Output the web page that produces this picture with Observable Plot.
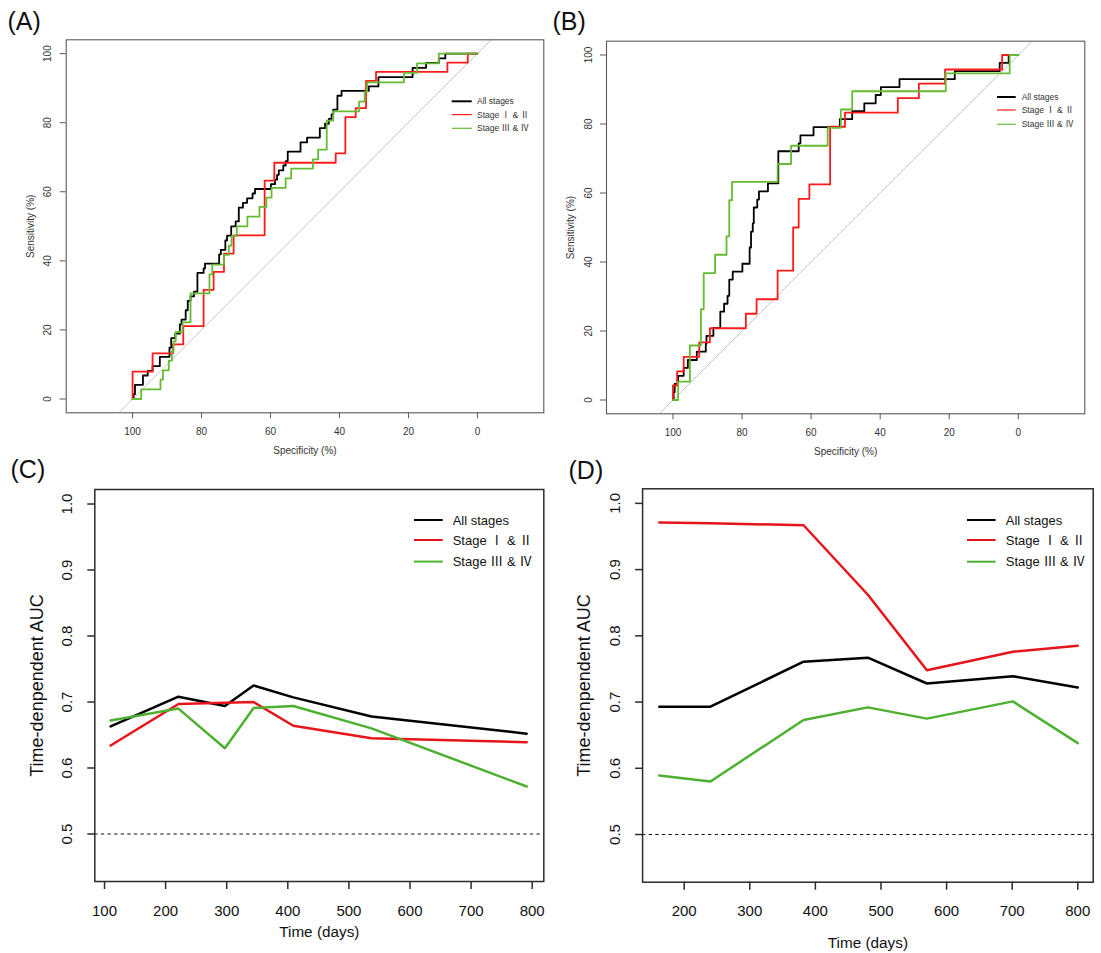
<!DOCTYPE html>
<html>
<head>
<meta charset="utf-8">
<script src="https://cdn.jsdelivr.net/npm/d3@7"></script>
<script src="https://cdn.jsdelivr.net/npm/@observablehq/plot@0.6"></script>
<style>
  body { margin: 0; background: #fff; }
  #wrap { position: relative; width: 1101px; height: 953px; overflow: hidden; background: #fff; }
  #wrap svg { position: absolute; overflow: visible; }
</style>
</head>
<body>
<div id="wrap"></div>
<script>
const FONT = "'Liberation Sans', 'Noto Sans CJK SC', Arial, sans-serif";

// ---------- data ----------
const seriesNames = ["All stages", "Stage Ⅰ & Ⅱ", "Stage Ⅲ & Ⅳ"];
const rocColors = ["#000000", "#ff1a1a", "#66bb33"];
const aucColors = ["#000000", "#e8141c", "#4db030"];

const rocTicks = [0, 20, 40, 60, 80, 100];
const chanceSpec = [-20, 120];           // chance diagonal: sensitivity = 100 - specificity
const chanceAUC = [0.5];

// Panel A ROC (specificity %, sensitivity %), step points
const rocA_allSpec = [100, 99.7, 99.3, 97.0, 95.6, 94.2, 92.1, 89.3, 88.8, 87.6, 86.3, 85.8, 84.6, 84.0, 83.2, 82.2, 81.2, 79.4, 79.0, 74.9, 74.4, 73.1, 72.6, 71.4, 70.1, 69.2, 68.0, 66.8, 65.2, 64.5, 59.9, 58.7, 58.1, 57.6, 56.3, 55.6, 55.0, 51.3, 49.4, 45.7, 44.2, 43.1, 42.3, 41.8, 40.6, 39.4, 31.5, 28.7, 18.8, 14.9, 11.2, 9.3, 0];
const rocA_allSens = [0, 1.4, 4.1, 6.8, 8.1, 9.5, 12.2, 14.9, 17.6, 18.9, 21.6, 23.0, 25.7, 28.4, 29.7, 31.1, 36.5, 37.8, 39.2, 41.9, 43.2, 45.9, 47.3, 50.0, 51.4, 55.4, 56.8, 58.1, 59.5, 60.8, 62.2, 63.5, 64.9, 66.2, 67.6, 68.9, 71.6, 74.3, 75.7, 78.4, 79.7, 81.1, 82.4, 83.8, 87.8, 89.2, 90.5, 93.2, 95.9, 97.3, 98.6, 100, 100];
const rocA_earlySpec = [100, 100, 94.2, 88.3, 85.3, 79.4, 76.5, 73.5, 70.7, 61.7, 58.9, 41.1, 38.3, 35.3, 32.3, 29.4, 8.7, 2.8, 0];
const rocA_earlySens = [0, 7.9, 13.2, 15.8, 21.1, 31.6, 36.8, 42.1, 47.4, 63.2, 68.4, 71.1, 81.6, 84.2, 92.1, 94.7, 97.4, 100, 100];
const rocA_lateSpec = [100, 97.5, 91.9, 91.2, 89.5, 88.6, 88.1, 87.5, 85.5, 83.2, 77.7, 76.9, 73.5, 72.1, 71.3, 69.8, 66.7, 63.2, 61.2, 59.7, 55.6, 54.0, 47.7, 46.2, 43.7, 41.8, 34.3, 32.7, 32.0, 21.3, 17.5, 11.2, 0];
const rocA_lateSens = [0, 2.8, 5.6, 8.3, 11.1, 13.9, 16.7, 19.4, 22.2, 30.6, 36.1, 38.9, 41.7, 44.4, 47.2, 50.0, 52.8, 55.6, 58.3, 61.1, 63.9, 66.7, 69.4, 72.2, 80.6, 83.3, 86.1, 88.9, 91.7, 94.4, 97.2, 100, 100];

// Panel B ROC
const rocB_allSpec = [100, 99.8, 99.5, 98.5, 96.9, 95.7, 93.1, 90.5, 90.3, 88.3, 86.3, 85.2, 84.2, 83.7, 82.7, 79.9, 77.8, 77.4, 76.9, 76.6, 75.6, 75.1, 72.5, 69.5, 63.6, 63.1, 59.3, 51.7, 48.1, 44.6, 41.3, 39.8, 34.4, 18.4, 5.4, 2.8, 0];
const rocB_allSens = [0, 2.3, 4.7, 7.0, 9.3, 11.6, 14.0, 16.3, 18.6, 20.9, 25.6, 27.9, 30.2, 34.9, 37.2, 39.5, 44.2, 48.8, 51.2, 55.8, 58.1, 60.5, 62.8, 72.1, 74.4, 76.7, 79.1, 81.4, 83.7, 86.0, 88.4, 90.7, 93.0, 95.3, 97.7, 100, 100];
const rocB_earlySpec = [100, 100, 98.8, 96.9, 92.4, 89.3, 78.9, 75.8, 69.7, 65.2, 63.6, 60.5, 54.5, 50.2, 34.9, 28.8, 21.2, 4.7, 0];
const rocB_earlySens = [0, 4.2, 8.3, 12.5, 16.7, 20.8, 25.0, 29.2, 37.5, 50.0, 58.3, 62.5, 79.2, 83.3, 87.5, 91.7, 95.8, 100, 100];
const rocB_lateSpec = [100, 98.5, 95.1, 91.9, 91.1, 87.8, 84.5, 83.7, 82.9, 69.7, 65.8, 55.2, 51.4, 48.1, 21.0, 2.5, 0];
const rocB_lateSens = [0, 5.3, 15.8, 26.3, 36.8, 42.1, 47.4, 57.9, 63.2, 68.4, 73.7, 78.9, 84.2, 89.5, 94.7, 100, 100];

// Panel C time-dependent AUC
const timeC = [110, 221, 297, 344, 409, 537, 791];
const aucC_all = [0.663, 0.708, 0.694, 0.725, 0.707, 0.678, 0.652];
const aucC_early = [0.634, 0.697, 0.699, 0.700, 0.664, 0.645, 0.639];
const aucC_late = [0.672, 0.690, 0.630, 0.691, 0.694, 0.660, 0.572];
const timeTicksC = [100, 200, 300, 400, 500, 600, 700, 800];

// Panel D time-dependent AUC
const timeD = [162, 240, 382, 480, 570, 701, 800];
const aucD_all = [0.693, 0.693, 0.761, 0.767, 0.728, 0.739, 0.722];
const aucD_early = [0.971, 0.970, 0.967, 0.862, 0.748, 0.776, 0.785];
const aucD_late = [0.589, 0.580, 0.673, 0.692, 0.675, 0.701, 0.638];
const timeTicksD = [200, 300, 400, 500, 600, 700, 800];

const aucTicks = [0.5, 0.6, 0.7, 0.8, 0.9, 1.0];

// ---------- helpers ----------
const rocRows = (spec, sens, s) => spec.map((v, i) => ({spec: v, sens: sens[i], series: s}));
const aucRows = (t, a, s) => t.map((v, i) => ({time: v, auc: a[i], series: s}));
const chanceRows = chanceSpec.map(s => ({spec: s, sens: 100 - s}));

function legendMark({x1, x2, xt, rows, fontSize, widths, colors, fill}) {
  return () => {
    const g = d3.create("svg:g").attr("font-family", FONT).attr("text-anchor", "start");
    seriesNames.forEach((name, i) => {
      g.append("line").attr("x1", x1).attr("x2", x2).attr("y1", rows[i]).attr("y2", rows[i])
        .attr("stroke", colors[i]).attr("stroke-width", widths[i]);
      g.append("text").attr("x", xt).attr("y", rows[i]).attr("dy", "0.35em")
        .attr("text-anchor", "start")
        .attr("font-size", fontSize).attr("fill", fill).text(name);
    });
    return g.node();
  };
}

function rocPanel({label, rows, W, H, m, legend, lab}) {
  return Plot.plot({
    width: W, height: H,
    marginLeft: m.l, marginRight: m.r, marginTop: m.t, marginBottom: m.b,
    x: {domain: [-19.25, 119.25], reverse: true},
    y: {domain: [-4, 104]},
    color: {domain: seriesNames, range: rocColors},
    style: {fontFamily: FONT, background: "white", overflow: "visible"},
    marks: [
      Plot.line(chanceRows, {x: "spec", y: "sens", stroke: "#c4c4c4", strokeWidth: 1, clip: true}),
      Plot.line(rows, {x: "spec", y: "sens", stroke: "series", curve: "step-after", strokeWidth: 1.8}),
      Plot.frame({stroke: "#595959", strokeWidth: 1.1}),
      Plot.axisX(rocTicks, {tickSize: 6, tickFormat: () => "", stroke: "#595959", label: null}),
      Plot.axisY(rocTicks, {tickSize: 6, tickFormat: () => "", stroke: "#595959", label: null}),
      Plot.text(rocTicks, {x: d => d, frameAnchor: "bottom", dy: 19.4, text: d => String(d), fontSize: 10, lineAnchor: "middle", fill: "#333"}),
      Plot.text(rocTicks, {y: d => d, frameAnchor: "left", dx: -18, rotate: -90, text: d => String(d), fontSize: 10, textAnchor: "middle", lineAnchor: "middle", fill: "#333"}),
      Plot.text(["Specificity (%)"], {frameAnchor: "bottom", dy: 37.7, text: d => d, fontSize: 10, lineAnchor: "middle", fill: "#333"}),
      Plot.text(["Sensitivity (%)"], {frameAnchor: "left", dx: -35.5, rotate: -90, text: d => d, fontSize: 10, textAnchor: "middle", lineAnchor: "middle", fill: "#333"}),
      Plot.text([label], {frameAnchor: "top-left", dx: lab.dx, dy: lab.dy, text: d => d, fontSize: 25, textAnchor: "start", lineAnchor: "middle", fill: "#111"}),
      legendMark({...legend, fontSize: 8.5, widths: [2, 1.2, 1.2], colors: rocColors, fill: "#333"})
    ]
  });
}

function aucPanel({label, rows, W, H, m, xDomain, xTicks, legend, lab, xTitleDy, yTitleDx, yLabDx}) {
  return Plot.plot({
    width: W, height: H,
    marginLeft: m.l, marginRight: m.r, marginTop: m.t, marginBottom: m.b,
    x: {domain: xDomain},
    y: {domain: [0.428, 1.022]},
    color: {domain: seriesNames, range: aucColors},
    style: {fontFamily: FONT, background: "white", overflow: "visible"},
    marks: [
      Plot.ruleY(chanceAUC, {stroke: "#111", strokeWidth: 1.2, strokeDasharray: "3.3,3.3"}),
      Plot.line(rows, {x: "time", y: "auc", stroke: "series", strokeWidth: 2.5}),
      Plot.frame({stroke: "#2b2b2b", strokeWidth: 1.5}),
      Plot.axisX(xTicks, {tickSize: 8, tickFormat: () => "", stroke: "#2b2b2b", strokeWidth: 1.5, label: null}),
      Plot.axisY(aucTicks, {tickSize: 7, tickFormat: () => "", stroke: "#2b2b2b", strokeWidth: 1.5, label: null}),
      Plot.text(xTicks, {x: d => d, frameAnchor: "bottom", dy: 29.2, text: d => String(d), fontSize: 15, lineAnchor: "middle", fill: "#111"}),
      Plot.text(aucTicks, {y: d => d, frameAnchor: "left", dx: yLabDx, rotate: -90, text: d => d3.format(".1f")(d), fontSize: 15, textAnchor: "middle", lineAnchor: "middle", fill: "#111"}),
      Plot.text(["Time (days)"], {frameAnchor: "bottom", dy: xTitleDy, text: d => d, fontSize: 15.3, lineAnchor: "middle", fill: "#111"}),
      Plot.text(["Time-denpendent AUC"], {frameAnchor: "left", dx: yTitleDx, rotate: -90, text: d => d, fontSize: 18, textAnchor: "middle", lineAnchor: "middle", fill: "#111"}),
      Plot.text([label], {frameAnchor: "top-left", dx: lab.dx, dy: lab.dy, text: d => d, fontSize: 25, textAnchor: "start", lineAnchor: "middle", fill: "#111"}),
      legendMark({...legend, fontSize: 13, widths: [2, 2, 2], colors: aucColors, fill: "#111"})
    ]
  });
}

// ---------- build ----------
const wrap = document.getElementById("wrap");
function place(svg, left, top) {
  svg.style.position = "absolute";
  svg.style.left = left + "px";
  svg.style.top = top + "px";
  wrap.appendChild(svg);
}

const rowsA = [
  ...rocRows(rocA_allSpec, rocA_allSens, seriesNames[0]),
  ...rocRows(rocA_earlySpec, rocA_earlySens, seriesNames[1]),
  ...rocRows(rocA_lateSpec, rocA_lateSens, seriesNames[2])
];
const rowsB = [
  ...rocRows(rocB_allSpec, rocB_allSens, seriesNames[0]),
  ...rocRows(rocB_earlySpec, rocB_earlySens, seriesNames[1]),
  ...rocRows(rocB_lateSpec, rocB_lateSens, seriesNames[2])
];
const rowsC = [
  ...aucRows(timeC, aucC_all, seriesNames[0]),
  ...aucRows(timeC, aucC_early, seriesNames[1]),
  ...aucRows(timeC, aucC_late, seriesNames[2])
];
const rowsD = [
  ...aucRows(timeD, aucD_all, seriesNames[0]),
  ...aucRows(timeD, aucD_early, seriesNames[1]),
  ...aucRows(timeD, aucD_late, seriesNames[2])
];

place(rocPanel({
  label: "(A)", rows: rowsA, W: 550, H: 457,
  m: {l: 65.7, r: 6.7, t: 39.3, b: 44.7},
  legend: {x1: 451.7, x2: 471.7, xt: 477, rows: [101.3, 114.6, 128.3]},
  lab: {dx: 7 - 65.7, dy: 21 - 39.3}
}), 0, 0);

place(rocPanel({
  label: "(B)", rows: rowsB, W: 551, H: 457,
  m: {l: 56, r: 16.7, t: 40.7, b: 43.7},
  legend: {x1: 447, x2: 465.7, xt: 471.7, rows: [97, 110, 124.3]},
  lab: {dx: 2 - 56, dy: 21 - 40.7}
}), 550, 0);

place(aucPanel({
  label: "(C)", rows: rowsC, W: 550, H: 496,
  m: {l: 94.3, r: 6.7, t: 32, b: 72},
  xDomain: [84.1, 819], xTicks: timeTicksC,
  legend: {x1: 414, x2: 442.8, xt: 452.7, rows: [63, 83, 104.6]},
  lab: {dx: 10 - 94.3, dy: 12 - 32},
  xTitleDy: 50.6, yTitleDx: -57.7, yLabDx: -27.8
}), 0, 457);

place(aucPanel({
  label: "(D)", rows: rowsD, W: 551, H: 496,
  m: {l: 92.1, r: 8.3, t: 31.3, b: 71.3},
  xDomain: [136.6, 823.5], xTicks: timeTicksD,
  legend: {x1: 417, x2: 445.6, xt: 455.8, rows: [63, 83, 104.7]},
  lab: {dx: 18 - 92.1, dy: 13 - 31.3},
  xTitleDy: 61, yTitleDx: -58.8, yLabDx: -27
}), 550, 457);
</script>
</body>
</html>
